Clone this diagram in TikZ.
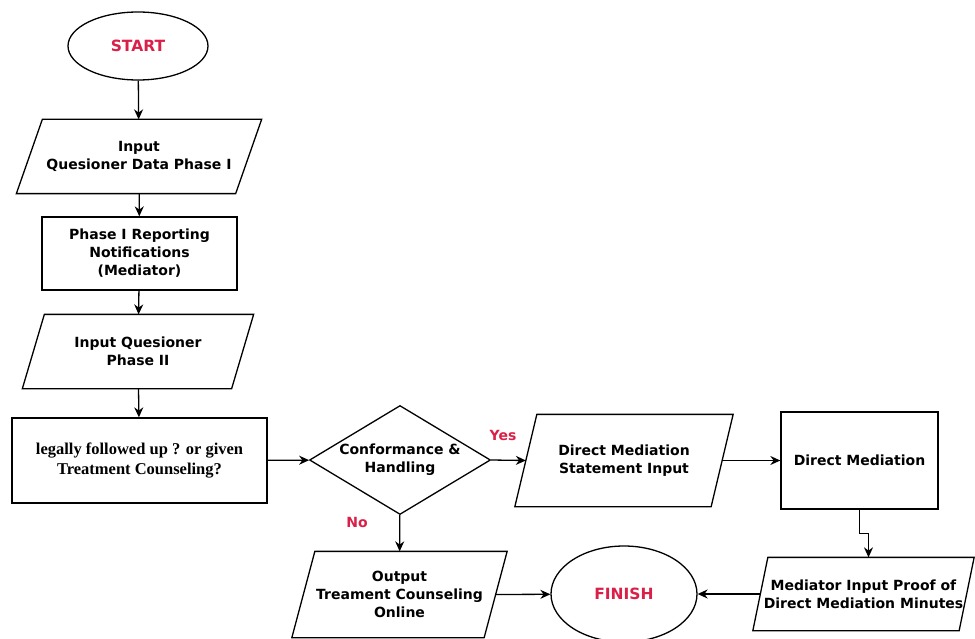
\documentclass[tikz,border=0pt]{standalone}
\usepackage{fontspec}
\setmainfont{DejaVu Sans}
\newfontfamily\timesfont{Liberation Serif}
\usetikzlibrary{shapes.geometric,arrows.meta}
\definecolor{flowred}{RGB}{218,32,72}

% outline of a slanted input / output box around a named node
\newcommand{\ioshape}[2]{%
  \draw ([xshift=#2]#1.north west) -- ([xshift=#2]#1.north east)
    -- ([xshift=-#2]#1.south east) -- ([xshift=-#2]#1.south west) -- cycle;}

\begin{document}
\begin{tikzpicture}[x=1pt,y=-1pt,line width=1.3pt,
  txt/.style={font=\fontsize{14}{18}\selectfont\bfseries, align=center},
  box/.style={txt, draw, rectangle, inner sep=0pt},
  iobox/.style={txt, rectangle, inner sep=0pt},
  oval/.style={draw, ellipse, inner sep=0pt, text=flowred,
    font=\fontsize{15.5}{18}\selectfont\bfseries},
  answer/.style={text=flowred, font=\fontsize{14}{16}\selectfont\bfseries},
  arr/.style={-{Stealth[length=10pt,width=9pt]}}]

\useasboundingbox (0,0) rectangle (975,639);

% left column
\node [oval, minimum width=140, minimum height=68] (start) at (138,46) {START};
\node [iobox, minimum width=218, minimum height=73] (qin1) at (139,156.5) {Input\\Quesioner Data Phase I};
\node [box, minimum width=195, minimum height=73] (report) at (139.5,253.5) {Phase I Reporting\\Notifications\\(Mediator)};
\node [iobox, minimum width=208, minimum height=73] (qin2) at (138,351.5) {Input Quesioner\\Phase II};
\node [box, minimum width=255, minimum height=85,
  font=\timesfont\fontsize{16.5}{20}\selectfont\bfseries] (legal) at (139.5,460.5) {legally followed up ? or given\\Treatment Counseling?};

% decision and right part
\node [txt, draw, diamond, aspect=1.66, inner sep=0pt, minimum width=181, minimum height=109] (check) at (400,460) {Conformance \&\\Handling};
\node [iobox, minimum width=195, minimum height=91] (dmin) at (624,460.5) {Direct Mediation\\Statement Input};
\node [box, minimum width=157, minimum height=97] (dm) at (859.5,460.5) {Direct Mediation};
\node [iobox, minimum width=205, minimum height=72] (proof) at (863.5,594) {Mediator Input Proof of\\Direct Mediation Minutes};
\node [oval, minimum width=146, minimum height=96] (finish) at (624,594) {FINISH};
\node [iobox, minimum width=191, minimum height=85] (online) at (399.5,594.5) {Output\\Treament Counseling\\Online};

\ioshape{qin1}{13pt}
\ioshape{qin2}{11pt}
\ioshape{dmin}{11pt}
\ioshape{proof}{7.5pt}
\ioshape{online}{11.5pt}

\node [answer] (yes) at (503,435) {Yes};
\node [answer] (no) at (357,522) {No};

% connectors
\draw [arr] (start) -- (qin1);
\draw [arr] (qin1) -- (report);
\draw [arr] (report) -- (qin2);
\draw [arr] (qin2) -- (legal);
\draw [arr] (legal) -- (check);
\draw [arr] (check.east) -- (dmin.west);
\draw [arr] (dmin.east) -- (dm);
\draw [arr] (dm.south) -- ++(0,24) -| ([xshift=5pt]proof.north);
\draw [arr] (proof.west) -- (finish);
\draw [arr] (check) -- (online);
\draw [arr] (online.east) -- (finish);

\end{tikzpicture}
\end{document}
